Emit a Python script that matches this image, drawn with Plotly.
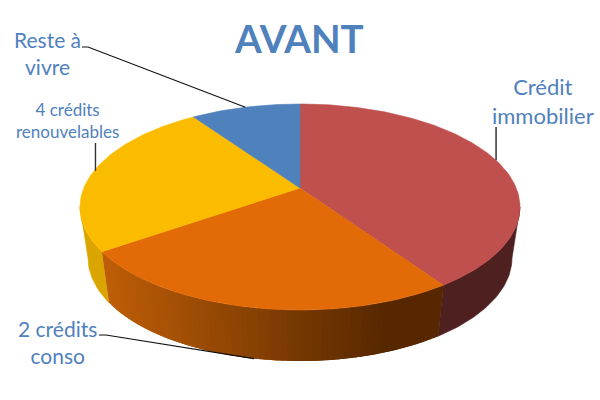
import numpy as np
import plotly.graph_objects as go

# Data (share of the budget, clockwise from 12 o'clock)
categories = ["Crédit immobilier", "2 crédits conso", "4 crédits renouvelables", "Reste à vivre"]
values = [40.5, 24.8, 25.1, 9.6]
title_text = "AVANT"

# Styling
top_colors = ["#BF504D", "#E26B08", "#FBBC00", "#4F81BD"]
side_red = "#4E2020"
side_yellow = "#DBA500"
grad_start = np.array([0xBE, 0x5E, 0x08])
grad_end = np.array([0x57, 0x28, 0x00])
text_color = "#4F81BD"
font = "Lato"

# Projection of the pie (page pixels)
CX, CY, RX, RY = 300.0, 207.0, 220.0, 103.0
BCY, BRX, BRY = 258.0, 212.0, 103.0
PERSP = -0.184


def project(theta_deg, cy=CY, rx=RX, ry=RY):
    t = np.radians(theta_deg)
    u, v = np.sin(t), -np.cos(t)
    d = 1 + PERSP * v
    return CX + rx * np.sqrt(1 - PERSP**2) * u / d, cy + ry * (v + PERSP) / d


def bottom(theta_deg):
    return project(theta_deg, BCY, BRX, BRY)


edges = np.concatenate([[0], np.cumsum(values)]) / sum(values) * 360.0
mids = (edges[:-1] + edges[1:]) / 2
limit = np.degrees(np.arccos(PERSP))  # angle of the silhouette on the right
limit_l = 360 - limit

fig = go.Figure()


def poly(xs, ys, color, lw=0.6):
    fig.add_trace(go.Scatter(x=xs, y=ys, mode="lines", fill="toself", fillcolor=color,
                             line=dict(color=color, width=lw), hoverinfo="skip", showlegend=False))


def wall(a, b, color, lw=0.6):
    th = np.linspace(a, b, max(2, int(abs(b - a)) + 2))
    x1, y1 = project(th)
    x2, y2 = bottom(th[::-1])
    poly(np.r_[x1, x2, x1[0]], np.r_[y1, y2, y1[0]], color, lw)


# Side walls
wall(limit, edges[1], side_red)
wall(edges[2], limit_l, side_yellow)
steps = np.linspace(edges[2], edges[1], 71)  # left to right, each strip overlaps the next
for a, b in zip(steps[:-1], steps[1:]):
    xm = project((a + b) / 2)[0]
    t = np.clip((xm - 105) / (385 - 105), 0, 1)
    c = grad_start + (grad_end - grad_start) * t
    wall(a, max(b - 1.5, edges[1]), "rgb(%d,%d,%d)" % tuple(c), 0)

# Top faces
apex_x, apex_y = CX, CY + RY * PERSP
for i, color in enumerate(top_colors):
    th = np.linspace(edges[i], edges[i + 1], int(edges[i + 1] - edges[i]) + 2)
    x, y = project(th)
    poly(np.r_[apex_x, x, apex_x], np.r_[apex_y, y, apex_y], color)


# Leader lines from each label to the middle of its slice rim
def leader(xs, ys, color="#111111", width=1.2):
    fig.add_trace(go.Scatter(x=xs, y=ys, mode="lines", line=dict(color=color, width=width),
                             hoverinfo="skip", showlegend=False))


x, y = project(mids[0])
leader([x, x], [127, y], "#555555", 1.8)
x, y = bottom(mids[1])
leader([99, 106, x], [335, 335, y])
x, y = project(mids[2])
leader([x + 1.5, x + 1.5], [143, y], "#333333", 1.4)
x, y = project(mids[3])
leader([82, 88, x], [47, 47, y])


def label(text, x, y, size):
    fig.add_annotation(x=x, y=y, text=text, showarrow=False, xanchor="center", yanchor="middle",
                       align="center", font=dict(family=font, size=size, color=text_color))


label("Crédit<br>immobilier", 543, 101, 22)
label("2 crédits<br>conso", 57, 342, 21)
label("4 crédits<br>renouvelables", 67, 120, 17)
label("Reste à<br>vivre", 47, 53, 21)

fig.update_layout(
    width=600, height=400, margin=dict(l=0, r=0, t=0, b=0),
    paper_bgcolor="white", plot_bgcolor="white", showlegend=False,
    title=dict(text="<b>%s</b>" % title_text, x=0.499, y=0.90, xanchor="center", yanchor="middle",
               font=dict(family=font, size=38.5, color=text_color)),
    xaxis=dict(range=[0, 600], visible=False, fixedrange=True),
    yaxis=dict(range=[400, 0], visible=False, fixedrange=True),
)
fig.write_html("out.html", config=dict(displayModeBar=False),
               post_script="document.body.style.margin='0';document.documentElement.style.overflow='hidden';")
